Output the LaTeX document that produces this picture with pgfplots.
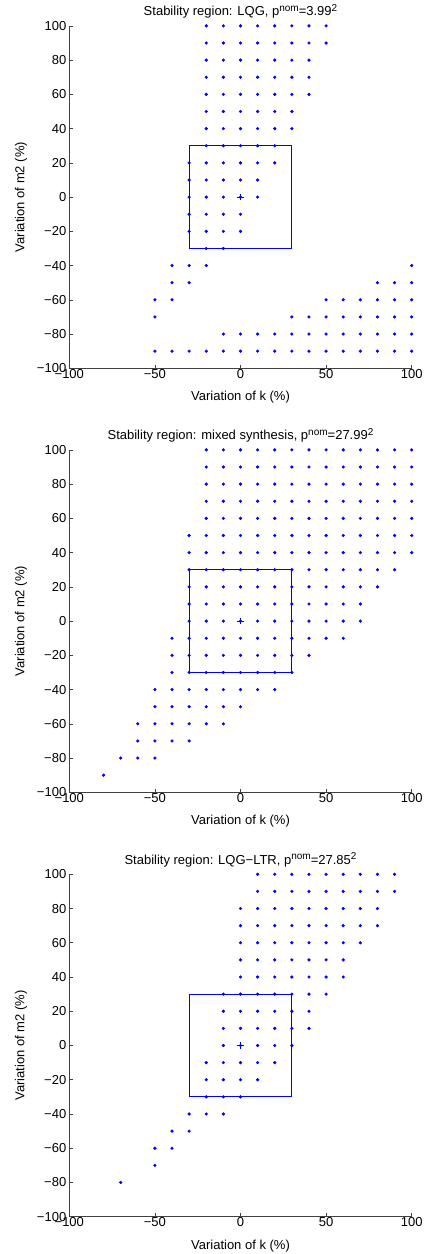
\documentclass[border=0pt]{standalone}
\usepackage{fontspec}
\setmainfont{Liberation Sans}
\usepackage{pgfplots}
\pgfplotsset{compat=1.18}

% MATLAB-like superscript: a little smaller, raised
\newcommand{\msup}[1]{\raisebox{0.34em}{\fontsize{10}{11}\selectfont #1}}

\pgfplotsset{
  stab/.style={
    width=342.4pt, height=342.4pt, scale only axis,
    anchor=south west,
    xmin=-100, xmax=100, ymin=-100, ymax=100,
    axis x line*=bottom, axis y line*=left,
    axis line style={-, black!75, line width=0.6pt},
    xtick={-100,-50,0,50,100},
    xticklabels={−100,−50,0,50,100},
    ytick={-100,-80,-60,-40,-20,0,20,40,60,80,100},
    yticklabels={−100,−80,−60,−40,−20,0,20,40,60,80,100},
    tick align=inside, major tick length=3.4pt,
    tick style={black!75, line width=0.6pt},
    font=\fontsize{13}{15}\selectfont,
    xticklabel style={anchor=base, yshift=-10pt},
    yticklabel style={anchor=east, xshift=0.5pt},
    xlabel={Variation of k (\%)},
    ylabel={Variation of m2 (\%)},
    xlabel style={at={(axis description cs:0.5,0)}, anchor=base, yshift=-32.5pt},
    ylabel style={at={(axis description cs:-0.141,0.5)}, anchor=center},
    title style={at={(axis description cs:0.5,1)}, anchor=base, yshift=4pt},
    clip=false,
  },
  dots/.style={only marks, mark=*, mark size=1.4pt, blue, mark options={draw=none, fill=blue}},
  nombox/.style={blue, line width=1.1pt, line join=miter, mark=none},
  nomplus/.style={only marks, mark=+, mark size=3.4pt, blue, mark options={line width=0.9pt}},
}

\begin{document}
\begin{tikzpicture}
\useasboundingbox (0,0) rectangle (428pt,1254pt);

% LQG
\begin{axis}[stab, at={(69.3pt,885.7pt)},
  title={Stability region: LQG, p\msup{nom}=3.99\msup{2}}]
\addplot[dots] coordinates {
(-20,100)(-10,100)(0,100)(10,100)(20,100)(30,100)(40,100)(50,100)
(-20,90)(-10,90)(0,90)(10,90)(20,90)(30,90)(40,90)(50,90)
(-20,80)(-10,80)(0,80)(10,80)(20,80)(30,80)(40,80)
(-20,70)(-10,70)(0,70)(10,70)(20,70)(30,70)(40,70)
(-20,60)(-10,60)(0,60)(10,60)(20,60)(30,60)(40,60)
(-20,50)(-10,50)(0,50)(10,50)(20,50)(30,50)
(-20,40)(-10,40)(0,40)(10,40)(20,40)(30,40)
(-20,30)(-10,30)(0,30)(10,30)(20,30)
(-30,20)(-20,20)(-10,20)(0,20)(10,20)(20,20)
(-30,10)(-20,10)(-10,10)(0,10)(10,10)
(-30,0)(-20,0)(-10,0)(0,0)(10,0)
(-30,-10)(-20,-10)(-10,-10)(0,-10)
(-30,-20)(-20,-20)(-10,-20)(0,-20)
(-20,-30)(-10,-30)
(-40,-40)(-30,-40)(-20,-40)(100,-40)
(-40,-50)(-30,-50)(80,-50)(90,-50)(100,-50)
(-50,-60)(-40,-60)(50,-60)(60,-60)(70,-60)(80,-60)(90,-60)(100,-60)
(-50,-70)(30,-70)(40,-70)(50,-70)(60,-70)(70,-70)(80,-70)(90,-70)(100,-70)
(-10,-80)(0,-80)(10,-80)(20,-80)(30,-80)(40,-80)(50,-80)(60,-80)(70,-80)(80,-80)(90,-80)(100,-80)
(-50,-90)(-40,-90)(-30,-90)(-20,-90)(-10,-90)(0,-90)(10,-90)(20,-90)(30,-90)(40,-90)(50,-90)(60,-90)(70,-90)(80,-90)(90,-90)(100,-90)
};
\addplot[nombox] coordinates {(-30,-30)(30,-30)(30,30)(-30,30)(-30,-30)};
\addplot[nomplus] coordinates {(0,0)};
\end{axis}

% mixed synthesis
\begin{axis}[stab, at={(69.3pt,461.7pt)},
  title={Stability region: mixed synthesis, p\msup{nom}=27.99\msup{2}}]
\addplot[dots] coordinates {
(-20,100)(-10,100)(0,100)(10,100)(20,100)(30,100)(40,100)(50,100)(60,100)(70,100)(80,100)(90,100)(100,100)
(-20,90)(-10,90)(0,90)(10,90)(20,90)(30,90)(40,90)(50,90)(60,90)(70,90)(80,90)(90,90)(100,90)
(-20,80)(-10,80)(0,80)(10,80)(20,80)(30,80)(40,80)(50,80)(60,80)(70,80)(80,80)(90,80)(100,80)
(-20,70)(-10,70)(0,70)(10,70)(20,70)(30,70)(40,70)(50,70)(60,70)(70,70)(80,70)(90,70)(100,70)
(-20,60)(-10,60)(0,60)(10,60)(20,60)(30,60)(40,60)(50,60)(60,60)(70,60)(80,60)(90,60)(100,60)
(-30,50)(-20,50)(-10,50)(0,50)(10,50)(20,50)(30,50)(40,50)(50,50)(60,50)(70,50)(80,50)(90,50)(100,50)
(-30,40)(-20,40)(-10,40)(0,40)(10,40)(20,40)(30,40)(40,40)(50,40)(60,40)(70,40)(80,40)(90,40)(100,40)
(-30,30)(-20,30)(-10,30)(0,30)(10,30)(20,30)(30,30)(40,30)(50,30)(60,30)(70,30)(80,30)(90,30)
(-30,20)(-20,20)(-10,20)(0,20)(10,20)(20,20)(30,20)(40,20)(50,20)(60,20)(70,20)(80,20)
(-30,10)(-20,10)(-10,10)(0,10)(10,10)(20,10)(30,10)(40,10)(50,10)(60,10)(70,10)
(-30,0)(-20,0)(-10,0)(0,0)(10,0)(20,0)(30,0)(40,0)(50,0)(60,0)(70,0)
(-40,-10)(-30,-10)(-20,-10)(-10,-10)(0,-10)(10,-10)(20,-10)(30,-10)(40,-10)(50,-10)(60,-10)
(-40,-20)(-30,-20)(-20,-20)(-10,-20)(0,-20)(10,-20)(20,-20)(30,-20)(40,-20)
(-40,-30)(-30,-30)(-20,-30)(-10,-30)(0,-30)(10,-30)(20,-30)(30,-30)
(-50,-40)(-40,-40)(-30,-40)(-20,-40)(-10,-40)(0,-40)(10,-40)(20,-40)
(-50,-50)(-40,-50)(-30,-50)(-20,-50)(-10,-50)(0,-50)
(-60,-60)(-50,-60)(-40,-60)(-30,-60)(-20,-60)(-10,-60)
(-60,-70)(-50,-70)(-40,-70)(-30,-70)
(-70,-80)(-60,-80)(-50,-80)
(-80,-90)
};
\addplot[nombox] coordinates {(-30,-30)(30,-30)(30,30)(-30,30)(-30,-30)};
\addplot[nomplus] coordinates {(0,0)};
\end{axis}

% LQG-LTR
\begin{axis}[stab, at={(69.3pt,37.3pt)},
  title={Stability region: LQG−LTR, p\msup{nom}=27.85\msup{2}}]
\addplot[dots] coordinates {
(10,100)(20,100)(30,100)(40,100)(50,100)(60,100)(70,100)(80,100)(90,100)
(10,90)(20,90)(30,90)(40,90)(50,90)(60,90)(70,90)(80,90)(90,90)
(0,80)(10,80)(20,80)(30,80)(40,80)(50,80)(60,80)(70,80)(80,80)
(0,70)(10,70)(20,70)(30,70)(40,70)(50,70)(60,70)(70,70)(80,70)
(0,60)(10,60)(20,60)(30,60)(40,60)(50,60)(60,60)(70,60)
(0,50)(10,50)(20,50)(30,50)(40,50)(50,50)(60,50)
(0,40)(10,40)(20,40)(30,40)(40,40)(50,40)(60,40)
(-10,30)(0,30)(10,30)(20,30)(30,30)(40,30)(50,30)
(-10,20)(0,20)(10,20)(20,20)(30,20)(40,20)
(-10,10)(0,10)(10,10)(20,10)(30,10)(40,10)
(-10,0)(0,0)(10,0)(20,0)(30,0)
(-20,-10)(-10,-10)(0,-10)(10,-10)(20,-10)
(-20,-20)(-10,-20)(0,-20)(10,-20)
(-20,-30)(-10,-30)(0,-30)
(-30,-40)(-20,-40)(-10,-40)
(-40,-50)(-30,-50)
(-50,-60)(-40,-60)
(-50,-70)
(-70,-80)
};
\addplot[nombox] coordinates {(-30,-30)(30,-30)(30,30)(-30,30)(-30,-30)};
\addplot[nomplus] coordinates {(0,0)};
\end{axis}
\end{tikzpicture}
\end{document}
